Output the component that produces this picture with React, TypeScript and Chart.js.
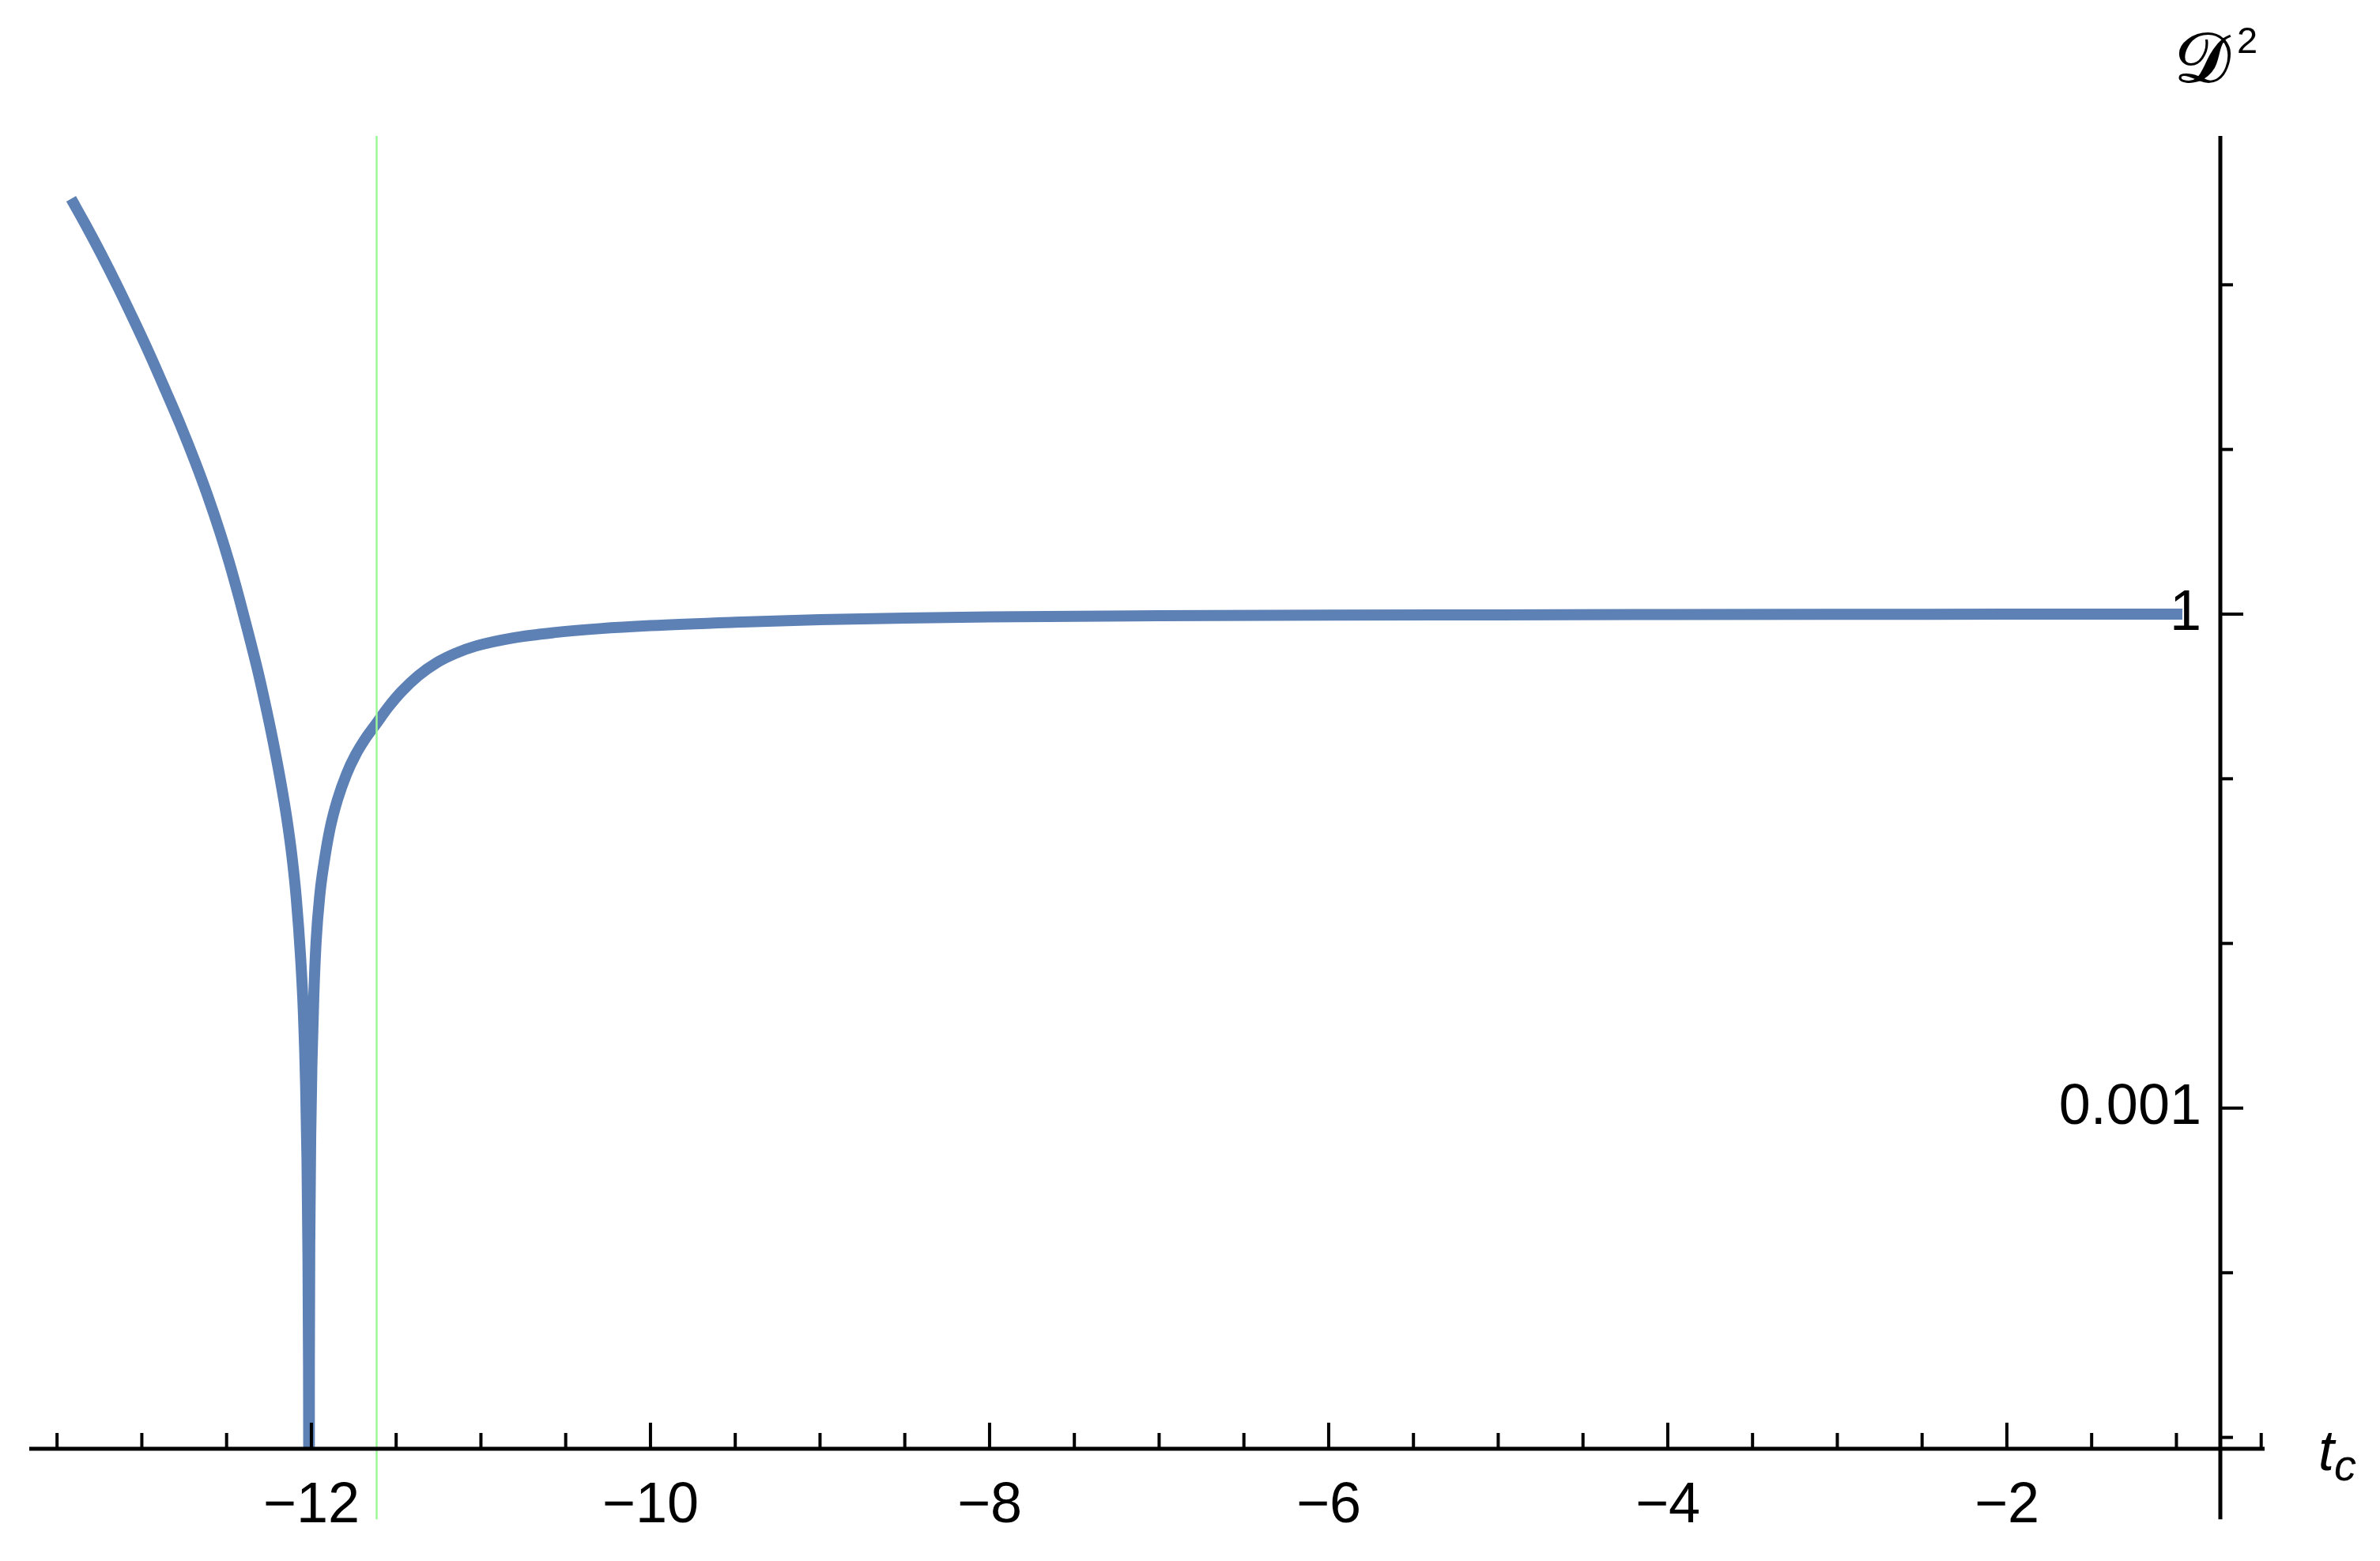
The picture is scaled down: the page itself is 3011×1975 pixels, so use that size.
import React, { useEffect, useRef } from 'react';
import { Chart, registerables } from 'chart.js';

Chart.register(...registerables);

// ---- data ----
const tValues = [
  // left branch
  -13.417, -13.334, -13.24, -13.144, -13.044, -12.954, -12.859, -12.774, -12.684, -12.614,
  -12.54, -12.484, -12.424, -12.374, -12.314, -12.269, -12.229, -12.184, -12.144, -12.114,
  -12.089, -12.064, -12.047, -12.034, -12.026, -12.02, -12.017, -12.0152, -12.014,
  // right branch
  -12.012, -12.009, -12.004, -11.996, -11.986, -11.972, -11.95, -11.926, -11.89, -11.846,
  -11.793, -11.739, -11.683, -11.619, -11.543, -11.469, -11.369, -11.261, -11.15, -11.03,
  -10.81, -10.57, -10.3, -10.0, -9.5, -9.0, -8.5, -8.0, -7.0, -6.0,
  -5.0, -4.0, -3.0, -2.0, -0.965,
];
const d2Values = [
  // left branch
  333, 234, 154, 98.2, 60, 37.9, 22.7, 14.2, 8.32, 5.31,
  3.16, 2.05, 1.23, 0.782, 0.443, 0.275, 0.175, 0.1, 0.0566, 0.0334,
  0.0188, 0.00835, 0.0038, 0.0014, 0.0005, 0.000126, 0.000032, 0.000005, 1e-9,
  // right branch
  0.000027, 0.00017, 0.00068, 0.002, 0.0047, 0.0103, 0.0198, 0.0305, 0.0498, 0.0746,
  0.1066, 0.14, 0.1744, 0.215, 0.275, 0.338, 0.423, 0.507, 0.578, 0.64,
  0.717, 0.772, 0.816, 0.851, 0.892, 0.925, 0.946, 0.962, 0.977, 0.985,
  0.99, 0.994, 0.997, 0.999, 1.0,
];

const xMajorTicks = [-12, -10, -8, -6, -4, -2];
const xMinorTicks = [
  -13.5, -13, -12.5, -11.5, -11, -10.5, -9.5, -9, -8.5, -7.5, -7, -6.5,
  -5.5, -5, -4.5, -3.5, -3, -2.5, -1.5, -1, -0.5,
];
const yTickValues = [1e-5, 1e-4, 1e-3, 1e-2, 1e-1, 1, 10, 100];
const yLabelledTicks = [1e-3, 1];
const yTickLabels = ['0.001', '1'];

const X_MIN = -13.664;
const X_AXIS_END = -0.48;
const Y_AXIS_AT = -0.741;
const Y_MIN = Math.pow(10, -5.069);
const Y_MAX = Math.pow(10, 2.904);
const Y_PAD_MIN = Math.pow(10, -5.497);
const GREEN_LINE_AT = -11.618;

const CURVE_COLOR = '#5E81B5';
const GREEN_COLOR = 'rgb(155,248,150)';
const FONT = '"Liberation Sans", Arial, Helvetica, sans-serif';

const fmtX = (v: number) => (v < 0 ? '\u2212' + Math.abs(v) : String(v));

const axesPlugin = {
  id: 'mmaAxes',
  afterDatasetsDraw(chart: any) {
    const { ctx, chartArea, scales } = chart;
    const x = scales.x;
    const y = scales.y;
    const gx = Math.round(x.getPixelForValue(GREEN_LINE_AT)) + 0.5;
    ctx.save();
    ctx.strokeStyle = GREEN_COLOR;
    ctx.lineWidth = 2.5;
    ctx.beginPath();
    ctx.moveTo(gx, chartArea.top);
    ctx.lineTo(gx, y.getPixelForValue(Y_PAD_MIN));
    ctx.stroke();
    ctx.restore();
  },
  afterDraw(chart: any) {
    const { ctx, chartArea, scales } = chart;
    const x = scales.x;
    const y = scales.y;
    const axisY = chartArea.bottom;
    const axisX = x.getPixelForValue(Y_AXIS_AT);
    ctx.save();
    ctx.strokeStyle = '#000';
    ctx.lineCap = 'butt';
    // x axis line
    ctx.lineWidth = 5;
    ctx.beginPath();
    ctx.moveTo(x.getPixelForValue(X_MIN), axisY);
    ctx.lineTo(x.getPixelForValue(X_AXIS_END), axisY);
    ctx.stroke();
    // y axis line
    ctx.beginPath();
    ctx.moveTo(axisX, chartArea.top);
    ctx.lineTo(axisX, y.getPixelForValue(Y_PAD_MIN));
    ctx.stroke();
    // x ticks
    ctx.lineWidth = 4;
    xMajorTicks.forEach((v) => {
      const px = x.getPixelForValue(v);
      ctx.beginPath();
      ctx.moveTo(px, axisY);
      ctx.lineTo(px, axisY - 33);
      ctx.stroke();
    });
    xMinorTicks.forEach((v) => {
      const px = x.getPixelForValue(v);
      ctx.beginPath();
      ctx.moveTo(px, axisY);
      ctx.lineTo(px, axisY - 20);
      ctx.stroke();
    });
    // y ticks
    yTickValues.forEach((v) => {
      const py = y.getPixelForValue(v);
      const major = yLabelledTicks.some((m) => Math.abs(m - v) < 1e-12);
      ctx.beginPath();
      ctx.moveTo(axisX, py);
      ctx.lineTo(axisX + (major ? 29 : 16), py);
      ctx.stroke();
    });
    // axis labels
    ctx.fillStyle = '#000';
    ctx.textAlign = 'left';
    ctx.textBaseline = 'alphabetic';
    const endX = x.getPixelForValue(X_AXIS_END);
    ctx.font = `italic 72px ${FONT}`;
    ctx.fillText('t', endX + 68, axisY + 27);
    ctx.font = `italic 56px ${FONT}`;
    ctx.fillText('c', endX + 88, axisY + 40);
    ctx.font = `88px "DejaVu Serif", "Liberation Serif", serif`;
    ctx.lineWidth = 1.8;
    ctx.strokeStyle = '#000';
    ctx.fillText('\u{1D49F}', axisX - 58, 103);
    ctx.strokeText('\u{1D49F}', axisX - 58, 103);
    ctx.font = `47px ${FONT}`;
    ctx.fillText('2', axisX + 21, 67);
    ctx.restore();
  },
};

export default function App() {
  const ref = useRef<HTMLCanvasElement>(null);
  useEffect(() => {
    const canvas = ref.current;
    if (!canvas) return;
    const chart = new Chart(canvas, {
      type: 'line',
      data: {
        datasets: [
          {
            label: 'D²',
            data: tValues.map((t, i) => ({ x: t, y: d2Values[i] })),
            borderColor: CURVE_COLOR,
            backgroundColor: CURVE_COLOR,
            borderWidth: 14,
            pointRadius: 0,
            cubicInterpolationMode: 'monotone',
            borderJoinStyle: 'round',
            borderCapStyle: 'butt',
            fill: false,
            clip: 0,
          } as any,
        ],
      },
      options: {
        animation: false,
        responsive: false,
        devicePixelRatio: 1,
        layout: { padding: { left: 37, top: 172, right: 0, bottom: 0 } },
        plugins: {
          legend: { display: false },
          tooltip: { enabled: false },
          title: { display: false },
        },
        scales: {
          x: {
            type: 'linear',
            position: 'bottom',
            min: X_MIN,
            max: Y_AXIS_AT,
            grid: { display: false, drawTicks: false },
            border: { display: false },
            ticks: {
              autoSkip: false,
              maxRotation: 0,
              padding: 30,
              color: '#000',
              font: { family: FONT, size: 72 },
              callback: (v: any) => fmtX(Number(v)),
            },
            afterBuildTicks: (s: any) => {
              s.ticks = xMajorTicks.map((v) => ({ value: v }));
            },
            afterFit: (s: any) => {
              s.height = 142;
            },
          },
          y: {
            type: 'logarithmic',
            position: 'right',
            min: Y_MIN,
            max: Y_MAX,
            z: 1,
            grid: { display: false, drawTicks: false },
            border: { display: false },
            ticks: {
              mirror: true,
              padding: -24,
              autoSkip: false,
              color: '#000',
              font: { family: FONT, size: 72 },
              callback: (v: any) => {
                const idx = yLabelledTicks.findIndex((m) => Math.abs(m - Number(v)) < 1e-12);
                return idx >= 0 ? yTickLabels[idx] : '';
              },
            },
            afterBuildTicks: (s: any) => {
              s.ticks = yTickValues.map((v) => ({ value: v }));
            },
            afterFit: (s: any) => {
              s.width = 202;
            },
          },
        },
      } as any,
      plugins: [axesPlugin],
    });
    return () => chart.destroy();
  }, []);
  return (
    <div style={{ position: 'fixed', left: 0, top: 0, width: 3011, height: 1975, background: '#fff' }}>
      <canvas ref={ref} width={3011} height={1975} style={{ display: 'block', width: 3011, height: 1975 }} />
    </div>
  );
}
